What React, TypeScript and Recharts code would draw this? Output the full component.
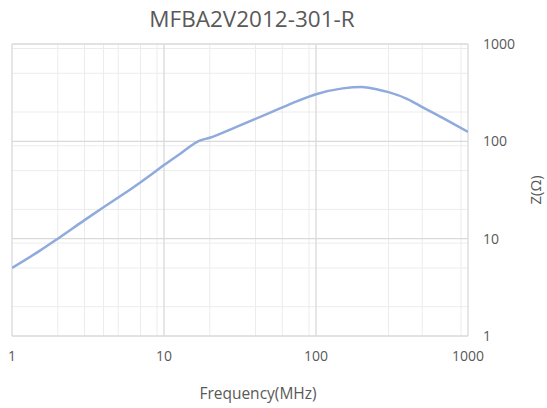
import React from 'react';
import { LineChart, Line, XAxis, YAxis, CartesianGrid, Label } from 'recharts';

const title = 'MFBA2V2012-301-R';
const freqMHz = [1, 1.5, 2, 3, 4, 5, 6, 8, 10, 13, 17, 20, 30, 50, 70, 100, 150, 200, 250, 300, 400, 500, 700, 1000];
const impedance = [5, 7.4, 10, 15.5, 21, 26.5, 32, 44, 57, 76, 101, 109, 141, 197, 247, 305, 350, 362, 343, 320, 272, 225, 170, 125];
const xTicks = [1, 10, 100, 1000];
const yTicks = [1, 10, 100, 1000];

const data = freqMHz.map((f, i) => ({ f, z: impedance[i] }));

// minor log grid lines: 2..9 in each decade
const minorLines: number[] = [];
[1, 10, 100].forEach((d) => {
  for (let k = 2; k <= 9; k++) minorLines.push(d * k);
});

const textColor = '#595959';
const font = '"Open Sans", sans-serif';

export default function App() {
  return (
    <div style={{ position: 'absolute', left: 0, top: 0, width: 547, height: 408, background: '#fff', fontFamily: font }}>
      <div
        style={{
          position: 'absolute',
          left: 152,
          width: 200,
          top: 3,
          whiteSpace: 'nowrap',
          fontSize: 22.5,
          color: textColor,
          display: 'flex',
          justifyContent: 'center',
        }}
      >
        {title}
      </div>
      <LineChart width={547} height={408} data={data} margin={{ top: 44, right: 0, bottom: 42, left: 12 }}>
        <CartesianGrid
          stroke="#ececec"
          strokeWidth={1}
          verticalValues={minorLines}
          horizontalValues={minorLines}
        />
        <CartesianGrid
          stroke="#d9d9d9"
          strokeWidth={1.3}
          verticalValues={xTicks}
          horizontalValues={yTicks}
        />
        <XAxis
          dataKey="f"
          type="number"
          scale="log"
          domain={[1, 1000]}
          ticks={xTicks}
          allowDataOverflow
          axisLine={false}
          tickLine={false}
          tickMargin={9}
          height={30}
          tick={{ fill: textColor, fontSize: 14, fontFamily: font }}
        >
          <Label
            value="Frequency(MHz)"
            position="center"
            dx={18}
            dy={42}
            style={{ fill: textColor, fontSize: 15.5, fontFamily: font }}
          />
        </XAxis>
        <YAxis
          orientation="right"
          type="number"
          scale="log"
          domain={[1, 1000]}
          ticks={yTicks}
          allowDataOverflow
          axisLine={false}
          tickLine={false}
          tickMargin={9}
          width={79}
          tick={{ fill: textColor, fontSize: 14, fontFamily: font, textAnchor: 'start' }}
        >
          <Label
            value="Z(Ω)"
            angle={-90}
            position="center"
            dx={28}
            style={{ fill: textColor, fontSize: 15, fontFamily: font }}
          />
        </YAxis>
        <Line
          type="monotone"
          dataKey="z"
          stroke="#8faadc"
          strokeWidth={2.5}
          dot={false}
          isAnimationActive={false}
        />
      </LineChart>
    </div>
  );
}
